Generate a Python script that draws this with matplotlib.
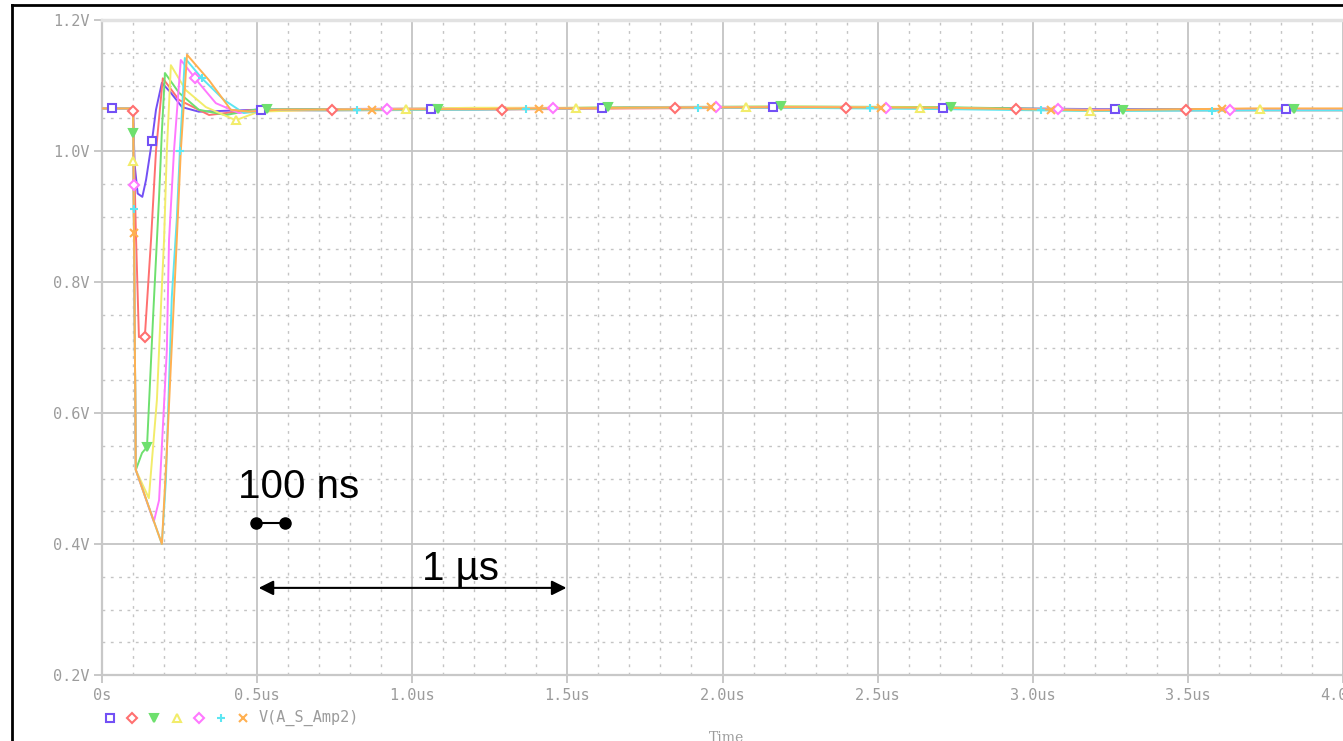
import numpy as np
import matplotlib
matplotlib.use('Agg')
import matplotlib.pyplot as plt
from matplotlib.lines import Line2D

# PSpice transient of V(A_S_Amp2), 7 runs. time in us, volts in V
t_steady = [0.7, 1.2, 1.7, 2.2, 2.7, 3.2, 3.7, 4.0]

t_purple = [0, 0.1, 0.105, 0.115, 0.13, 0.142, 0.161, 0.174, 0.193, 0.22, 0.258, 0.312, 0.5]
v_purple = [1.065, 1.065, 0.98, 0.935, 0.930, 0.956, 1.015, 1.063, 1.104, 1.090, 1.067, 1.060, 1.063]
s_purple = [1.064, 1.065, 1.066, 1.067, 1.066, 1.064, 1.064, 1.064]

t_red = [0, 0.1, 0.109, 0.119, 0.138, 0.158, 0.174, 0.196, 0.248, 0.345, 0.473]
v_red = [1.065, 1.065, 0.879, 0.716, 0.716, 0.864, 1.0, 1.111, 1.078, 1.055, 1.062]
s_red = [1.062, 1.063, 1.065, 1.066, 1.066, 1.062, 1.062, 1.062]

t_green = [0, 0.1, 0.109, 0.129, 0.145, 0.165, 0.184, 0.193, 0.203, 0.248, 0.312, 0.399, 0.505]
v_green = [1.065, 1.065, 0.513, 0.539, 0.548, 0.75, 0.93, 1.03, 1.119, 1.089, 1.063, 1.055, 1.064]
s_green = [1.064, 1.064, 1.067, 1.068, 1.067, 1.063, 1.064, 1.064]

t_yellow = [0, 0.1, 0.109, 0.151, 0.177, 0.19, 0.2, 0.209, 0.222, 0.27, 0.335, 0.431, 0.505]
v_yellow = [1.065, 1.065, 0.513, 0.47, 0.62, 0.762, 0.864, 1.0, 1.131, 1.093, 1.067, 1.047, 1.06]
s_yellow = [1.063, 1.066, 1.066, 1.068, 1.066, 1.061, 1.064, 1.064]

t_magenta = [0, 0.1, 0.109, 0.167, 0.184, 0.209, 0.216, 0.232, 0.254, 0.312, 0.367, 0.441, 0.538]
v_magenta = [1.065, 1.065, 0.513, 0.434, 0.467, 0.696, 0.864, 1.0, 1.139, 1.104, 1.073, 1.058, 1.063]
s_magenta = [1.063, 1.064, 1.066, 1.067, 1.065, 1.063, 1.063, 1.063]

t_cyan = [0, 0.1, 0.109, 0.193, 0.206, 0.225, 0.241, 0.251, 0.267, 0.322, 0.393, 0.457, 0.554]
v_cyan = [1.065, 1.065, 0.513, 0.40, 0.498, 0.777, 0.895, 1.0, 1.142, 1.111, 1.078, 1.058, 1.063]
s_cyan = [1.062, 1.063, 1.066, 1.066, 1.064, 1.061, 1.062, 1.062]

t_orange = [0, 0.1, 0.109, 0.193, 0.209, 0.241, 0.254, 0.274, 0.345, 0.415, 0.473, 0.57]
v_orange = [1.065, 1.065, 0.513, 0.40, 0.542, 0.864, 1.0, 1.147, 1.108, 1.063, 1.06, 1.063]
s_orange = [1.063, 1.064, 1.066, 1.067, 1.066, 1.062, 1.065, 1.065]

# times where PSpice dropped its trace symbols
m_purple = [0.032, 0.161, 0.512, 1.059, 1.61, 2.164, 2.711, 3.265, 3.815]
m_red = [0.1002, 0.138, 0.741, 1.288, 1.848, 2.399, 2.946, 3.493]
m_green = [0.1006, 0.145, 0.531, 1.082, 1.632, 2.189, 2.737, 3.29, 3.841]
m_yellow = [0.1013, 0.431, 0.979, 1.529, 2.077, 2.637, 3.184, 3.731]
m_magenta = [0.1019, 0.3, 0.918, 1.455, 1.98, 2.527, 3.081, 3.635]
m_cyan = [0.1025, 0.251, 0.322, 0.821, 1.368, 1.922, 2.476, 3.026, 3.577]
m_orange = [0.1031, 0.869, 1.407, 1.964, 2.511, 3.059, 3.609]

x_ticks = [0, 0.5, 1.0, 1.5, 2.0, 2.5, 3.0, 3.5, 4.0]
x_labels = ['0s', '0.5us', '1.0us', '1.5us', '2.0us', '2.5us', '3.0us', '3.5us', '4.0us']
y_ticks = [0.2, 0.4, 0.6, 0.8, 1.0, 1.2]
y_labels = ['0.2V', '0.4V', '0.6V', '0.8V', '1.0V', '1.2V']

# scale bars drawn on top of the screen grab
bar100_t = [0.496, 0.589]
bar100_v = 0.432
bar1us_t = [0.505, 1.497]
bar1us_v = 0.333

runs = [
    (t_purple, v_purple, s_purple, m_purple, '#7350F5', 's', 'none'),
    (t_red, v_red, s_red, m_red, '#FF7070', 'D', 'none'),
    (t_green, v_green, s_green, m_green, '#6EE06E', 'v', 'fill'),
    (t_yellow, v_yellow, s_yellow, m_yellow, '#F2EC6A', '^', 'none'),
    (t_magenta, v_magenta, s_magenta, m_magenta, '#FF78FF', 'D', 'none'),
    (t_cyan, v_cyan, s_cyan, m_cyan, '#5CE6F2', '+', 'fill'),
    (t_orange, v_orange, s_orange, m_orange, '#FFB050', 'x', 'fill'),
]

W, H = 1343, 741
fig = plt.figure(figsize=(W / 100, H / 100), dpi=100)
ax = fig.add_axes([102 / W, 66 / H, (W - 102) / W, 655 / H])

for t, v, s, m, c, mk, fill in runs:
    tt = np.array(t + t_steady)
    vv = np.array(v + s)
    ax.plot(tt, vv, color=c, lw=1.4, zorder=3)
    mfc = c if fill == 'fill' else 'white'
    ax.plot(m, np.interp(m, tt, vv), ls='none', marker=mk, ms=5.5, mec=c, mfc=mfc,
            mew=1.5, zorder=4)

ax.set_xlim(0, (W - 102) / 311.9)
ax.set_ylim(0.2, 1.2)

gray = '#9C9C9C'
ax.set_xticks(x_ticks)
ax.set_xticklabels(x_labels)
ax.set_yticks(y_ticks)
ax.set_yticklabels(y_labels)
ax.set_xticks(np.arange(0, 4.01, 0.1), minor=True)
ax.set_yticks(np.arange(0.2, 1.201, 0.05), minor=True)
ax.grid(True, which='major', color='#C4C4C4', lw=1.3, zorder=1)
ax.grid(True, which='minor', color='#C4C4C4', lw=1.0, ls=(0, (2, 4)), zorder=1)
ax.tick_params(which='minor', length=0)
ax.tick_params(which='major', length=6, width=1.3, color='#C4C4C4', labelcolor=gray,
               labelsize=11, pad=3)
for lab in ax.get_xticklabels() + ax.get_yticklabels():
    lab.set_family('DejaVu Sans Mono')

for sp in ['left', 'bottom']:
    ax.spines[sp].set_color('#C8C8C8')
    ax.spines[sp].set_linewidth(1.6)
ax.spines['top'].set_color('#E2E2E2')
ax.spines['top'].set_linewidth(2.5)
ax.spines['right'].set_visible(False)

# scale annotations
ax.plot(bar100_t, [bar100_v, bar100_v], color='black', lw=1.5, marker='o', ms=8,
        zorder=6, clip_on=False)
ax.annotate('', xy=(bar1us_t[1], bar1us_v), xytext=(bar1us_t[0], bar1us_v),
            arrowprops=dict(arrowstyle='<|-|>', color='black', lw=1.5,
                            mutation_scale=22, shrinkA=0, shrinkB=0), zorder=6)
ax.text(0.633, 0.470, '100 ns', fontsize=29, family='Liberation Sans', ha='center',
        va='baseline', zorder=7)
ax.text(1.157, 0.345, '1 \u00b5s', fontsize=29, family='Liberation Sans', ha='center',
        va='baseline', zorder=7)

# PSpice style legend under the axis
for i, (t, v, s, m, c, mk, fill) in enumerate(runs):
    mfc = c if fill == 'fill' else 'white'
    fig.add_artist(Line2D([(110 + 22.2 * i) / W], [1 - 718 / H], ls='none', marker=mk,
                          ms=5.5, mec=c, mfc=mfc, mew=1.5))
fig.text(259 / W, 1 - 718 / H, 'V(A_S_Amp2)', color=gray, fontsize=11,
         family='DejaVu Sans Mono', va='center', ha='left')
fig.text(727 / W, 1 - 731 / H, 'Time', color=gray, fontsize=10, family='DejaVu Serif',
         va='top', ha='center')

# black window frame of the screen grab
fig.add_artist(Line2D([12 / W, 12 / W], [0, 1 - 5 / H], color='black', lw=2))
fig.add_artist(Line2D([12 / W, 1], [1 - 5 / H, 1 - 5 / H], color='black', lw=2))

fig.savefig('out.png', dpi=100)
